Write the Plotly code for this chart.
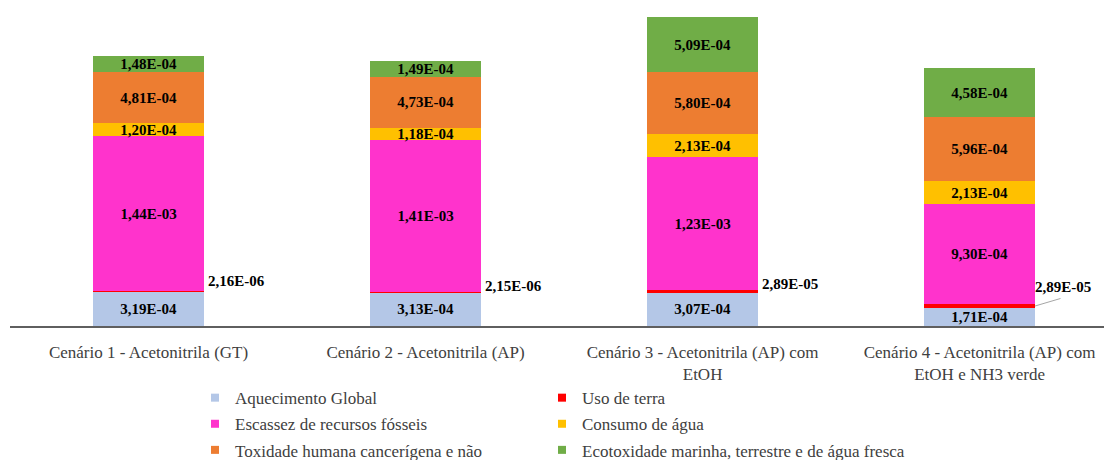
import plotly.graph_objects as go

# Scenario names (x categories)
categories = [
    "Cenário 1 - Acetonitrila (GT)",
    "Cenário 2 - Acetonitrila (AP)",
    "Cenário 3 - Acetonitrila (AP) com<br>EtOH",
    "Cenário 4 - Acetonitrila (AP) com<br>EtOH e NH3 verde",
]

# Impact values per category (stacked bottom to top)
aquecimento_global = [3.19e-4, 3.13e-4, 3.07e-4, 1.71e-4]
uso_de_terra = [2.16e-6, 2.15e-6, 2.89e-5, 2.89e-5]
escassez_fosseis = [1.44e-3, 1.41e-3, 1.23e-3, 9.30e-4]
consumo_agua = [1.20e-4, 1.18e-4, 2.13e-4, 2.13e-4]
toxidade_humana = [4.81e-4, 4.73e-4, 5.80e-4, 5.96e-4]
ecotoxidade = [1.48e-4, 1.49e-4, 5.09e-4, 4.58e-4]

series_names = [
    "Aquecimento Global",
    "Uso de terra",
    "Escassez de recursos fósseis",
    "Consumo de água",
    "Toxidade humana cancerígena e não",
    "Ecotoxidade marinha, terrestre e de água fresca",
]
series_values = [
    aquecimento_global,
    uso_de_terra,
    escassez_fosseis,
    consumo_agua,
    toxidade_humana,
    ecotoxidade,
]
series_colors = ["#B4C7E7", "#FF0000", "#FF33CC", "#FFC000", "#ED7D31", "#70AD47"]

# Legend layout: two columns (left / right legend box)
legend_slot = ["legend", "legend2", "legend", "legend2", "legend", "legend2"]

SERIF = "Liberation Serif"
BAR_WIDTH = 0.4
LABEL_FONT = dict(family=SERIF, size=15, color="black", weight="bold")
TEXT_GRAY = "#404040"


def fmt(v):
    return f"{v:.2E}".replace(".", ",")


fig = go.Figure()

for name, vals, color in zip(series_names, series_values, series_colors):
    inside = name != "Uso de terra"
    fig.add_trace(go.Bar(
        x=categories,
        y=vals,
        name=name,
        width=BAR_WIDTH,
        marker=dict(color=color, line=dict(width=0)),
        text=[fmt(v) for v in vals] if inside else None,
        textposition="inside" if inside else "none",
        insidetextanchor="middle",
        textangle=0,
        constraintext="none",
        textfont=LABEL_FONT,
        showlegend=False,
        hoverinfo="skip",
    ))

# Small square legend markers
for name, color, slot in zip(series_names, series_colors, legend_slot):
    fig.add_trace(go.Scatter(
        x=[None], y=[None],
        mode="markers",
        name=name,
        marker=dict(symbol="square", size=8, color=color),
        legend=slot,
        legendgroup=name,
        showlegend=True,
    ))

# Land-use labels sit beside the bars (segments are too thin to hold text)
label_lift = [10, 6, 6]
annotations = []
for i in range(3):
    annotations.append(dict(
        x=i + BAR_WIDTH / 2,
        y=aquecimento_global[i] + uso_de_terra[i],
        xref="x", yref="y",
        text=fmt(uso_de_terra[i]),
        showarrow=False,
        xanchor="left", yanchor="middle",
        xshift=2, yshift=label_lift[i],
        font=LABEL_FONT,
    ))

# Last scenario: label with a leader line
annotations.append(dict(
    x=3 + BAR_WIDTH / 2,
    y=aquecimento_global[3] + uso_de_terra[3],
    xref="x", yref="y",
    text=fmt(uso_de_terra[3]),
    showarrow=False,
    xanchor="left", yanchor="middle",
    xshift=-2, yshift=17,
    font=LABEL_FONT,
))
annotations.append(dict(
    x=3 + BAR_WIDTH / 2,
    y=aquecimento_global[3] + uso_de_terra[3] / 2,
    xref="x", yref="y",
    text="",
    showarrow=True,
    arrowhead=0,
    arrowwidth=1,
    arrowcolor="#A6A6A6",
    ax=27, ay=-8,
    standoff=0, startstandoff=0,
))

legend_common = dict(
    orientation="v",
    yanchor="top",
    xanchor="left",
    font=dict(family=SERIF, size=17, color=TEXT_GRAY),
    bgcolor="rgba(0,0,0,0)",
    tracegroupgap=1,
    traceorder="grouped",
    itemclick=False,
    itemdoubleclick=False,
)

fig.update_layout(
    width=1104,
    height=460,
    margin=dict(l=10, r=0, t=0, b=134, autoexpand=False),
    barmode="stack",
    paper_bgcolor="white",
    plot_bgcolor="white",
    font=dict(family=SERIF, size=17, color=TEXT_GRAY),
    xaxis=dict(
        type="category",
        range=[-0.5, 3.449],
        showline=True,
        linecolor="#5F5F5F",
        linewidth=1.5,
        showgrid=False,
        zeroline=False,
        ticks="",
        tickfont=dict(family=SERIF, size=17, color=TEXT_GRAY),
        ticklabelstandoff=10,
        automargin=False,
        fixedrange=True,
    ),
    yaxis=dict(
        range=[0, 3.027e-3],
        visible=False,
        showgrid=False,
        zeroline=False,
        fixedrange=True,
    ),
    legend=dict(x=0.1691, y=-0.166, **legend_common),
    legend2=dict(x=0.4863, y=-0.166, **legend_common),
    annotations=annotations,
)

fig.write_html("out.html")
